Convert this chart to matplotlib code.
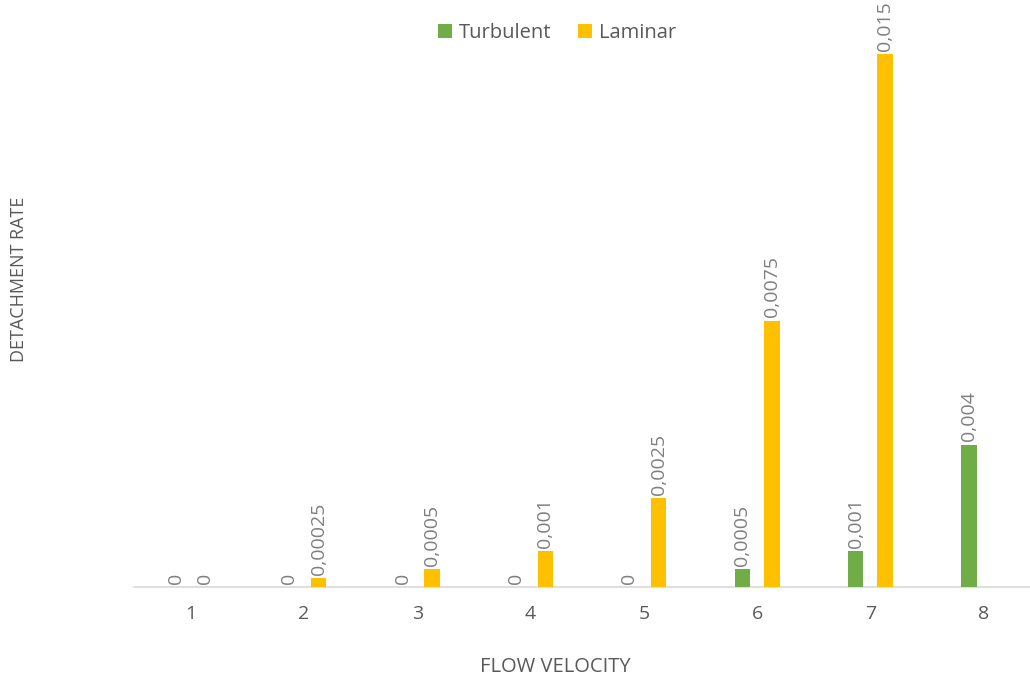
import numpy as np
import matplotlib.pyplot as plt

plt.rcParams['font.family'] = ['Open Sans', 'DejaVu Sans']

# data
categories = ['1', '2', '3', '4', '5', '6', '7', '8']
turbulent = [0, 0, 0, 0, 0, 0.0005, 0.001, 0.004]
laminar = [0, 0.00025, 0.0005, 0.001, 0.0025, 0.0075, 0.015, np.nan]

GREEN = '#70AD47'
YELLOW = '#FFC000'
TEXT = '#595959'
LABEL = '#7F7F7F'


def fmt(v):
    if v == 0:
        return '0'
    return repr(v).replace('.', ',')


fig = plt.figure(figsize=(10.3, 6.79), dpi=100)
ax = fig.add_axes([134 / 1030, 92 / 679, 896 / 1030, 587 / 679])

x = np.arange(len(categories))
w = 0.137
off = 0.13
b1 = ax.bar(x - off, turbulent, w, color=GREEN, label='Turbulent', zorder=3)
b2 = ax.bar(x + off, laminar, w, color=YELLOW, label='Laminar', zorder=3)

for bars, vals in [(b1, turbulent), (b2, laminar)]:
    for rect, v in zip(bars, vals):
        if np.isnan(v):
            continue
        ax.annotate(fmt(v), (rect.get_x() + rect.get_width() / 2, v),
                    xytext=(0, 2.5), textcoords='offset points',
                    rotation=90, ha='center', va='bottom',
                    fontsize=14, color=LABEL, annotation_clip=False)

ax.set_xlim(-0.5, -0.5 + 896 / 113.3)
ax.set_ylim(0, 0.015 * 587 / 533)
ax.set_xticks(x)
ax.set_xticklabels(categories, fontsize=14, color=TEXT)
ax.tick_params(axis='x', length=0, pad=13)
ax.set_yticks([])

for s in ['top', 'right', 'left']:
    ax.spines[s].set_visible(False)
ax.spines['bottom'].set_color('#D9D9D9')
ax.spines['bottom'].set_linewidth(1.2)

fig.text(555 / 1030, 1 - 667 / 679, 'FLOW VELOCITY', ha='center', va='center',
         fontsize=14.5, color=TEXT)
fig.text(19 / 1030, 1 - 279 / 679, 'DETACHMENT RATE', ha='center', va='center',
         rotation=90, fontsize=13, color=TEXT)

fig.legend(loc='center', bbox_to_anchor=(557 / 1030, 1 - 33 / 679), ncol=2,
           frameon=False, fontsize=14.5, labelcolor=TEXT,
           handlelength=0.7, handleheight=0.7, handletextpad=0.35,
           columnspacing=1.3)

fig.savefig('out.png', dpi=100)
